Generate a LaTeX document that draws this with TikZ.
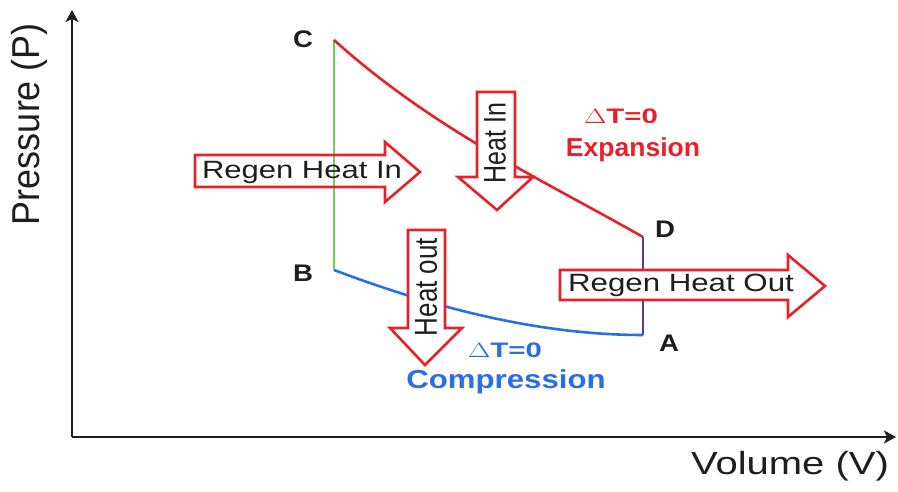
\documentclass[tikz,border=0pt]{standalone}
\usepackage{fontspec}
\setmainfont{Liberation Sans}
\usetikzlibrary{arrows.meta}
\definecolor{myred}{RGB}{232,32,40}
\definecolor{mygreen}{RGB}{110,210,90}
\definecolor{myblue}{RGB}{40,110,230}
\definecolor{mypurple}{RGB}{90,60,160}
\definecolor{ink}{RGB}{30,30,30}
\tikzset{
  axis/.style={line width=2.4pt, draw=ink, -{Stealth[length=12pt,width=13pt,inset=3pt]}},
  curve/.style={line width=2.6pt},
  blockarrow/.style={draw=myred, line width=2.6pt, line join=miter},
  txt/.style={text=ink, inner sep=0pt},
  ptlabel/.style={text=ink, inner sep=0pt, font=\fontsize{24}{28}\selectfont\bfseries},
}
\begin{document}
\begin{tikzpicture}[x=1pt,y=-1pt]
\useasboundingbox (0,0) rectangle (898,491);
% axes
\coordinate (O) at (72,437);
\coordinate (Ytip) at (72,10);
\coordinate (Xtip) at (896,437);
\draw[axis] (O) -- (Ytip);
\draw[axis] (O) -- (Xtip);
\node[txt, rotate=90] (ylab) at (29,124) {\fontsize{36}{40}\selectfont\scalebox{1}[1.08]{Pressure (P)}};
\node[txt] (xlab) at (790,466) {\fontsize{32}{36}\selectfont\scalebox{1.25}[1]{Volume (V)}};
% cycle points
\coordinate (C) at (334,40);
\coordinate (B) at (334,270);
\coordinate (D) at (643,237);
\coordinate (A) at (643,335);
\draw[curve, draw=mygreen] (C) -- (B);
\draw[curve, draw=mypurple] (D) -- (A);
\draw[curve, draw=myred] (C) .. controls (434,130) and (543,180) .. (D);
\draw[curve, draw=myblue] (B) .. controls (440,310) and (543,335) .. (A);
% block arrows
\draw[blockarrow] (195,155) -- (385,155) -- (385,142) -- (420,172) -- (385,202) -- (385,187) -- (195,187) -- cycle;
\draw[blockarrow, fill=white] (560,270) -- (788,270) -- (788,255) -- (825,286) -- (788,317) -- (788,300) -- (560,300) -- cycle;
\draw[blockarrow, fill=white] (477,92) -- (515,92) -- (515,177) -- (533,177) -- (497,210) -- (458,177) -- (477,177) -- cycle;
\draw[blockarrow, fill=white] (408,230) -- (445,230) -- (445,328) -- (462,328) -- (425,365) -- (390,328) -- (408,328) -- cycle;
% arrow texts
\node[txt] (rhi) at (302,172) {\fontsize{25}{30}\selectfont\scalebox{1.24}[1]{Regen Heat In}};
\node[txt] (rho) at (681,285) {\fontsize{25}{30}\selectfont\scalebox{1.25}[1]{Regen Heat Out}};
\node[txt, rotate=90] (hin) at (495,143) {\fontsize{25}{30}\selectfont\scalebox{1}[1.25]{Heat In}};
\node[txt, rotate=90] (hout) at (426,287) {\fontsize{26}{30}\selectfont\scalebox{1}[1.22]{Heat out}};
% process labels
\node[inner sep=0pt, text=myred] (dt1) at (621,116) {\fontsize{21}{24}\selectfont\bfseries\scalebox{1.4}[1]{$\Delta$T=0}};
\node[inner sep=0pt, text=myred] (exp) at (633,150) {\fontsize{26}{30}\selectfont\bfseries\scalebox{1.02}[1]{Expansion}};
\node[inner sep=0pt, text=myblue] (dt2) at (505,350) {\fontsize{21}{24}\selectfont\bfseries\scalebox{1.4}[1]{$\Delta$T=0}};
\node[inner sep=0pt, text=myblue] (comp) at (506,382) {\fontsize{26}{30}\selectfont\bfseries\scalebox{1.2}[1]{Compression}};
% point labels
\node[ptlabel] (lC) at (303,39) {\scalebox{1.15}[1]{C}};
\node[ptlabel] (lB) at (303,273) {\scalebox{1.15}[1]{B}};
\node[ptlabel] (lD) at (665,229) {\scalebox{1.15}[1]{D}};
\node[ptlabel] (lA) at (669,343) {\scalebox{1.15}[1]{A}};
\end{tikzpicture}
\end{document}
